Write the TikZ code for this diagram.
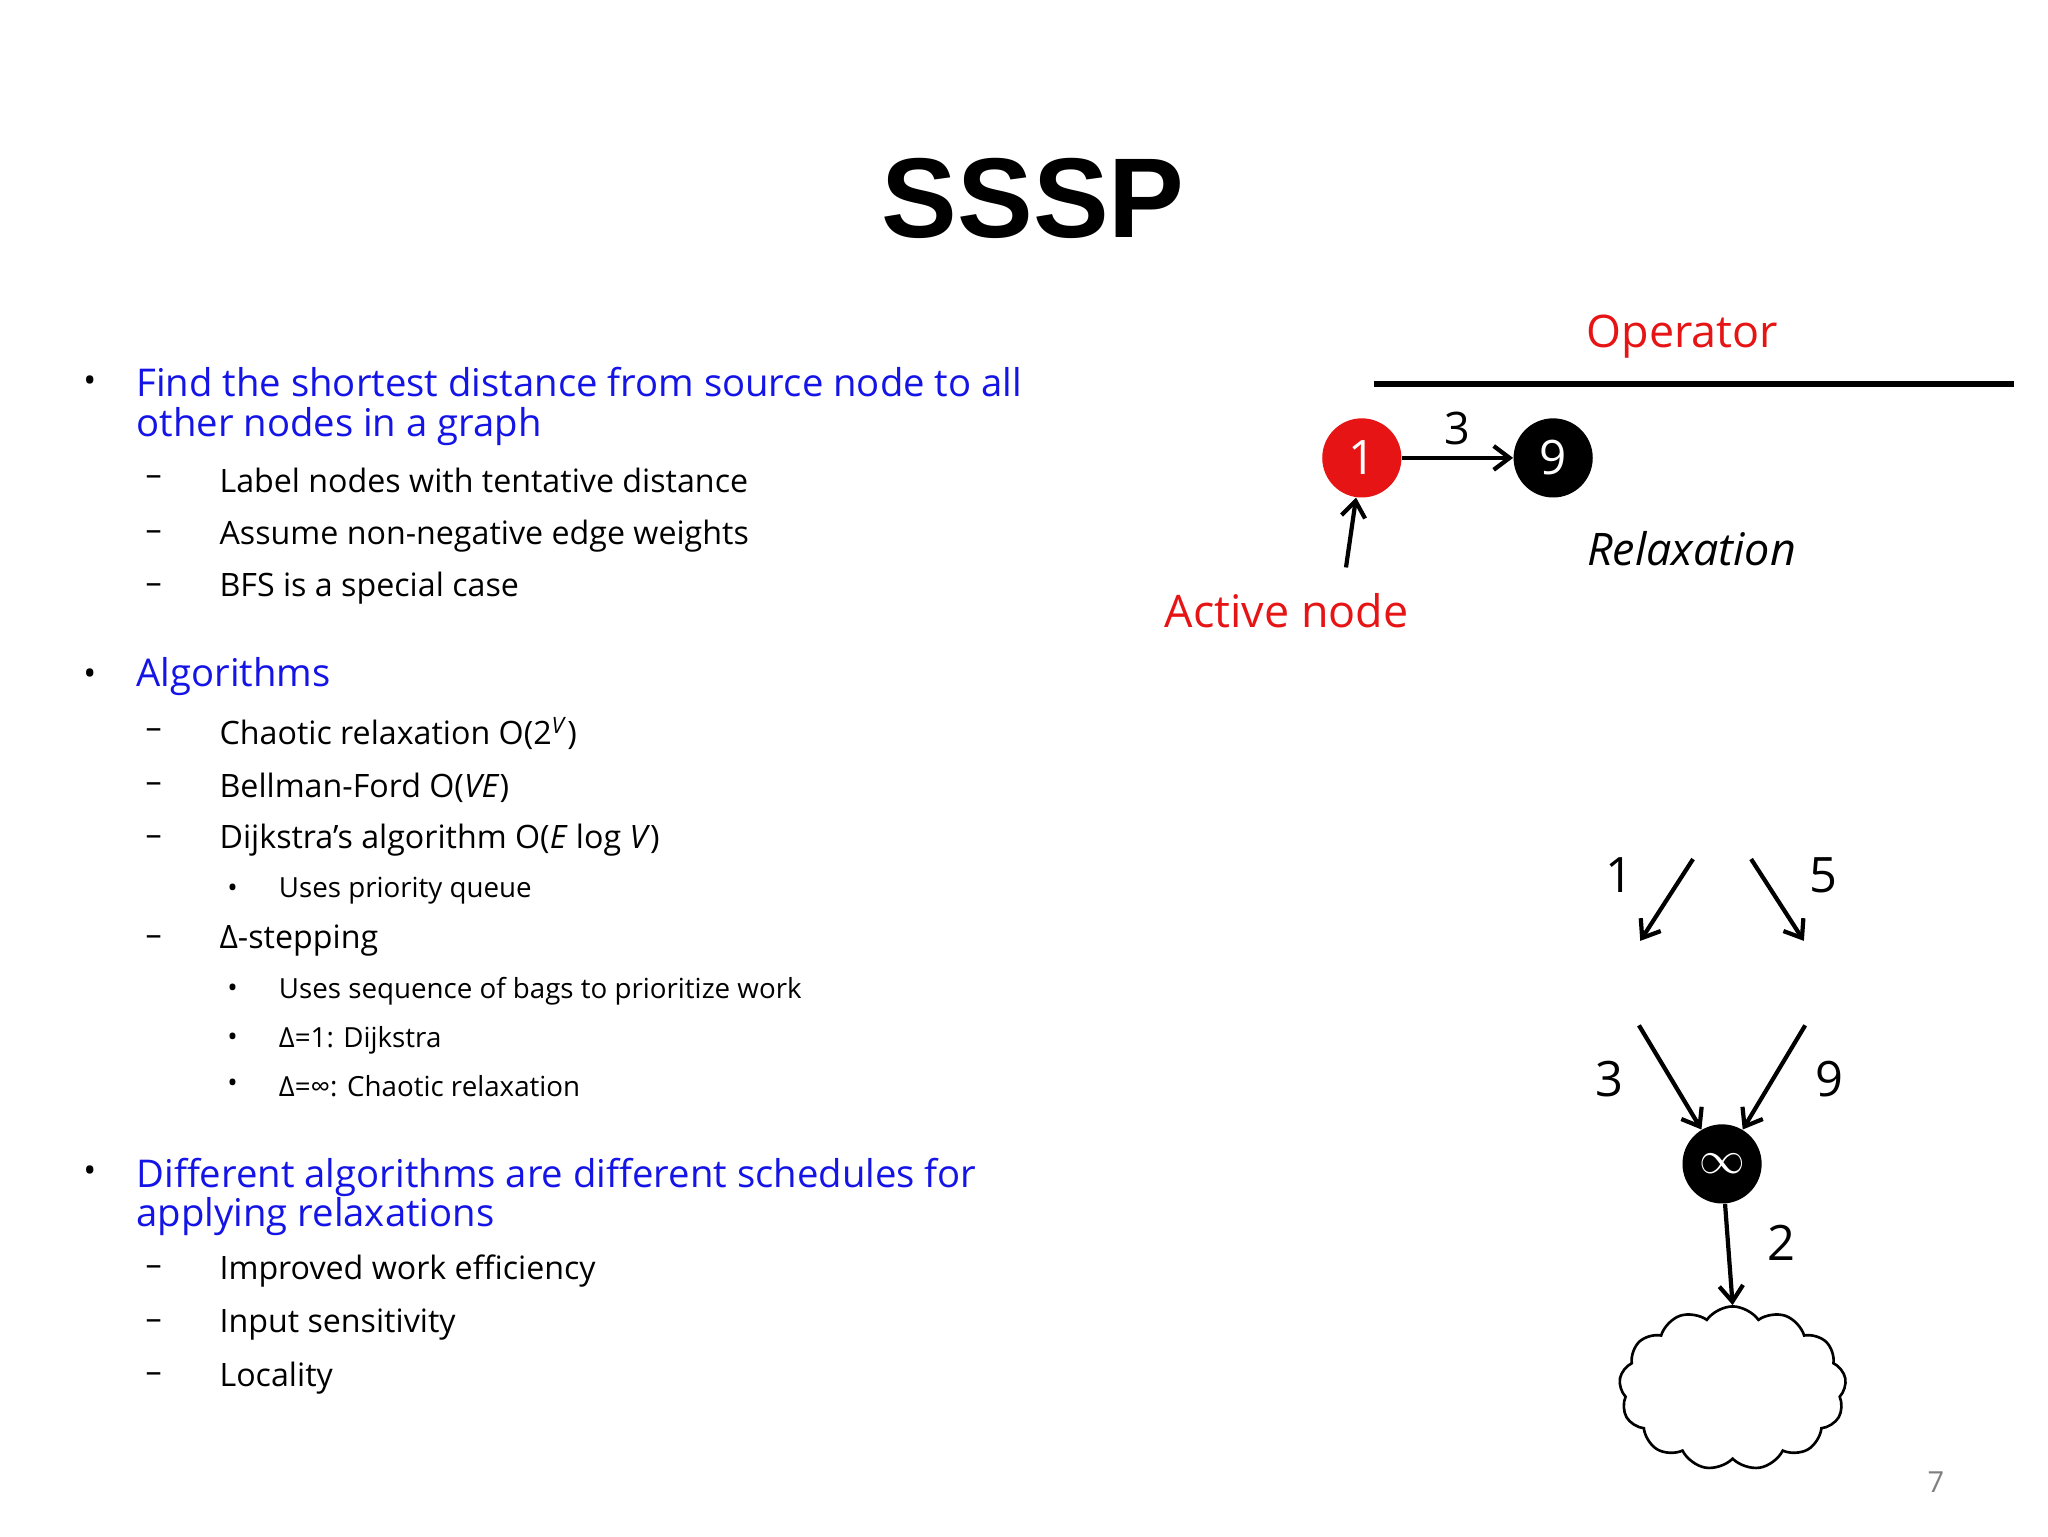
\documentclass[tikz,border=0pt]{standalone}
\usepackage{fontspec}
\setmainfont{Open Sans}
\newfontfamily\titlefont{Liberation Sans}
\usetikzlibrary{arrows.meta,shapes.symbols}
\definecolor{blu}{RGB}{20,20,230}
\definecolor{rd}{RGB}{230,20,20}
\begin{document}
\begin{tikzpicture}[x=0.5pt,y=-0.5pt,
  b1/.style={anchor=west,text=blu,font=\fontsize{14.5}{15}\selectfont,align=left,inner sep=0},
  b2/.style={anchor=west,font=\fontsize{12.2}{14}\selectfont,inner sep=0},
  b3/.style={anchor=west,font=\fontsize{10.5}{12}\selectfont,inner sep=0},
  dot/.style={anchor=center,font=\fontsize{13}{14}\selectfont,inner sep=0},
  arr/.style={line width=1.6pt,-{Straight Barb[length=6pt,width=9pt]}},
  num/.style={font=\fontsize{18.5}{20}\selectfont,inner sep=0},
  gnode/.style={circle,minimum size=30pt,inner sep=0,text=white,font=\fontsize{18}{18}\selectfont}]
\useasboundingbox (0,0) rectangle (1552,1164);
\node[font=\titlefont\bfseries\fontsize{43}{43}\selectfont] (title) at (783,150) {SSSP};
% bullet 1
\node[dot] (d1) at (68,291) {•};
\node[b1,anchor=north west] (t1) at (103,278) {Find the shortest distance from source node to all\\other nodes in a graph};
\foreach \y/\t [count=\i] in {364/Label nodes with tentative distance,406/Assume non-negative edge weights,446/BFS is a special case}{
  \node[b2] (da\i) at (110,\y) {–};
  \node[b2] (sa\i) at (166,\y) {\t};}
% bullet 2
\node[dot] (d2) at (68,513) {•};
\node[b1] (t2) at (103,513) {Algorithms};
\foreach \y/\t [count=\i] in {556/{Chaotic relaxation O(2\textsuperscript{\textit{V}})},597/{Bellman-Ford O(\textit{VE})},637/{Dijkstra’s algorithm O(\textit{E} log \textit{V})},713/{Δ-stepping}}{
  \node[b2] (db\i) at (110,\y) {–};
  \node[b2] (sb\i) at (166,\y) {\t};}
\foreach \y/\t [count=\i] in {675/Uses priority queue,751/Uses sequence of bags to prioritize work,788/{Δ=1: Dijkstra},823/{Δ=∞: Chaotic relaxation}}{
  \node[b3] (dc\i) at (172,\y) {•};
  \node[b3] (sc\i) at (211,\y) {\t};}
% bullet 3
\node[dot] (d3) at (68,890) {•};
\node[b1,anchor=north west] (t3) at (103,877) {Different algorithms are different schedules for\\applying relaxations};
\foreach \y/\t [count=\i] in {963/Improved work efficiency,1004/Input sensitivity,1044/Locality}{
  \node[b2] (dd\i) at (110,\y) {–};
  \node[b2] (sd\i) at (166,\y) {\t};}
% operator
\node[text=rd,font=\fontsize{17}{17}\selectfont] (op) at (1275,255) {Operator};
\coordinate (l1) at (1041,291); \coordinate (l2) at (1526,291);
\draw[line width=2pt] (l1) -- (l2);
\node[gnode,fill=rd] (n1) at (1032,347) {1};
\node[gnode,fill=black] (n9) at (1177,347) {9};
\draw[arr] (n1) -- node[above=4pt,num,font=\fontsize{17}{17}\selectfont] (w3) {3} (n9);
\node[text=rd,font=\fontsize{17}{17}\selectfont] (act) at (975,463) {Active node};
\coordinate (a0) at (1020,430);
\draw[arr] (a0) -- (n1);
\node[font=\itshape\fontsize{17}{17}\selectfont] (rel) at (1282,416) {Relaxation};
% lower graph
\coordinate (p1) at (1283,651); \coordinate (q1) at (1243,713);
\coordinate (p2) at (1327,651); \coordinate (q2) at (1367,713);
\coordinate (p3) at (1242,777); \coordinate (p4) at (1368,777);
\draw[arr] (p1) -- (q1); \draw[arr] (p2) -- (q2);
\node[num] (w1) at (1227,663) {1}; \node[num] (w5) at (1382,663) {5};
\node[gnode,fill=black,font=\fontsize{16}{16}\selectfont] (ninf) at (1305,882) {$\infty$};
\draw[arr] (p3) -- (ninf); \draw[arr] (p4) -- (ninf);
\node[num] (w3b) at (1220,818) {3}; \node[num] (w9) at (1386,818) {9};
\node[cloud,draw,line width=1pt,cloud puffs=13,cloud puff arc=110,aspect=1.5,minimum width=86pt,minimum height=62pt] (cl) at (1313,1052) {};
\draw[arr] (ninf) -- (cl.north);
\node[num] (w2) at (1350,942) {2};
\node[text=gray,font=\fontsize{11}{11}\selectfont] (pg) at (1467,1123) {7};
\end{tikzpicture}
\end{document}
